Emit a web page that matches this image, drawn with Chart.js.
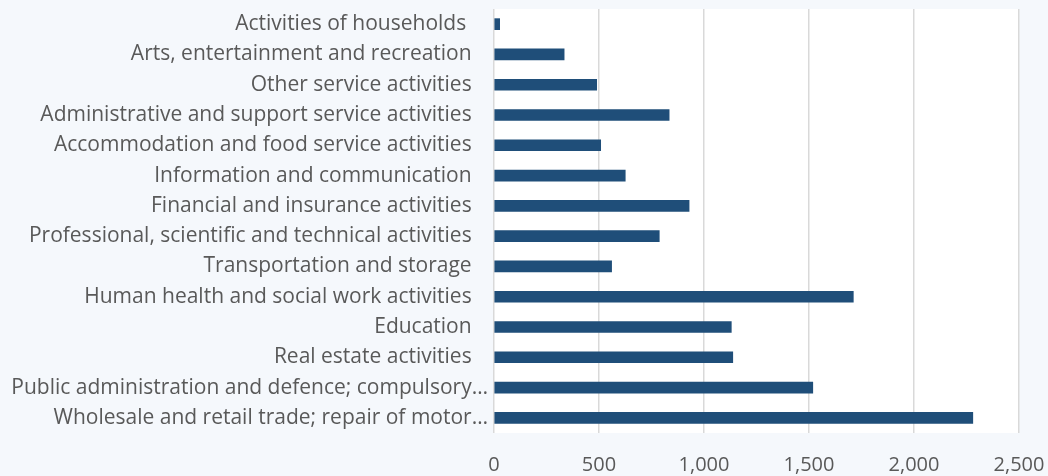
<!DOCTYPE html>
<html>
<head>
<meta charset="utf-8">
<script src="https://cdn.jsdelivr.net/npm/chart.js@4"></script>
<style>
  html, body { margin: 0; padding: 0; background: #f5f8fc; }
  #wrap { width: 1048px; height: 476px; }
</style>
</head>
<body>
<div id="wrap"><canvas id="chart" width="1048" height="476"></canvas></div>
<script>
const categories = [
    'Activities of households ',
    'Arts, entertainment and recreation',
    'Other service activities',
    'Administrative and support service activities',
    'Accommodation and food service activities',
    'Information and communication',
    'Financial and insurance activities',
    'Professional, scientific and technical activities',
    'Transportation and storage',
    'Human health and social work activities',
    'Education',
    'Real estate activities',
    'Public administration and defence; compulsory\u2026',
    'Wholesale and retail trade; repair of motor\u2026'
];
const values = [27, 334, 489, 834, 508, 625, 929, 787, 560, 1711, 1130, 1137, 1518, 2280];
const xTicks = [0, 500, 1000, 1500, 2000, 2500];

const FONT = 'Open Sans';

// white plot area on the tinted page
const plotBg = {
    id: 'plotBg',
    beforeDraw(chart) {
        const { ctx, chartArea: a } = chart;
        ctx.save();
        ctx.fillStyle = '#ffffff';
        ctx.fillRect(a.left, a.top, a.right - a.left, a.bottom - a.top);
        ctx.restore();
    }
};

new Chart(document.getElementById('chart'), {
    type: 'bar',
    data: {
        labels: categories,
        datasets: [{
            data: values,
            backgroundColor: '#1f4e79',
            borderWidth: 0,
            barThickness: 11
        }]
    },
    options: {
        indexAxis: 'y',
        responsive: false,
        animation: false,
        layout: { padding: { left: 0, right: 29, top: 9, bottom: 0 } },
        plugins: {
            legend: { display: false },
            tooltip: { enabled: false }
        },
        scales: {
            x: {
                min: xTicks[0],
                max: xTicks[xTicks.length - 1],
                afterBuildTicks: scale => { scale.ticks = xTicks.map(v => ({ value: v })); },
                afterFit: scale => {
                    scale.height = 43;
                    scale.paddingLeft = 0;
                    scale.paddingRight = 0;
                },
                border: { display: false },
                grid: { color: '#d9d9d9', lineWidth: 1.5, drawTicks: false },
                ticks: {
                    padding: 20,
                    maxRotation: 0,
                    color: '#595959',
                    font: { family: FONT, size: 20 },
                    callback: v => v.toLocaleString('en-US')
                }
            },
            y: {
                afterFit: scale => {
                    scale.width = 494;
                    scale.paddingTop = 0;
                    scale.paddingBottom = 0;
                },
                border: { display: false },
                grid: { display: false, drawTicks: false },
                ticks: {
                    padding: 6,
                    color: '#595959',
                    autoSkip: false,
                    font: { family: FONT, size: 21 },
                    // truncated labels sit closer to the axis, like the original
                    callback: function (v) {
                        const s = this.getLabelForValue(v);
                        return s.endsWith('\u2026') ? s : s + '   ';
                    }
                }
            }
        }
    },
    plugins: [plotBg]
});
</script>
</body>
</html>
